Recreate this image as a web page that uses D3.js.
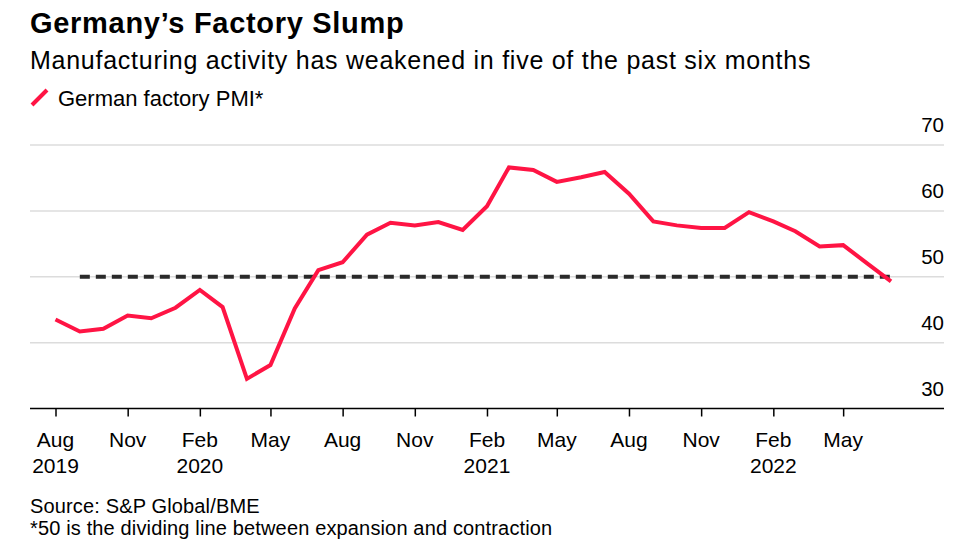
<!DOCTYPE html>
<html>
<head>
<meta charset="utf-8">
<script src="https://cdn.jsdelivr.net/npm/d3@7"></script>
<style>
  body { margin: 0; background: #fff; }
  svg text { font-family: "Liberation Sans", Arial, sans-serif; fill: #000; }
</style>
</head>
<body>
<svg id="chart" width="972" height="550"></svg>
<script>
// ---- data ----
const months = [
  '2019-08','2019-09','2019-10','2019-11','2019-12',
  '2020-01','2020-02','2020-03','2020-04','2020-05','2020-06','2020-07',
  '2020-08','2020-09','2020-10','2020-11','2020-12',
  '2021-01','2021-02','2021-03','2021-04','2021-05','2021-06','2021-07',
  '2021-08','2021-09','2021-10','2021-11','2021-12',
  '2022-01','2022-02','2022-03','2022-04','2022-05','2022-06','2022-07'
];
const pmi = [
  43.5, 41.7, 42.1, 44.1, 43.7,
  45.3, 48.0, 45.4, 34.5, 36.6, 45.2, 51.0,
  52.2, 56.4, 58.2, 57.8, 58.3,
  57.1, 60.7, 66.6, 66.2, 64.4, 65.1, 65.9,
  62.6, 58.4, 57.8, 57.4, 57.4,
  59.8, 58.4, 56.9, 54.6, 54.8, 52.0, 49.3
];
const yTicks = [30, 40, 50, 60, 70];
const xTicks = [
  '2019-08','2019-11','2020-02','2020-05','2020-08','2020-11',
  '2021-02','2021-05','2021-08','2021-11','2022-02','2022-05'
];
const thresholdValue = 50;
const thresholdRange = ['2019-09', '2022-07'];

const title = 'Germany\u2019s Factory Slump';
const subtitle = 'Manufacturing activity has weakened in five of the past six months';
const legendLabel = 'German factory PMI*';
const notes = ['Source: S&P Global/BME', '*50 is the dividing line between expansion and contraction'];

// ---- setup ----
const parse = d3.timeParse('%Y-%m');
const data = months.map((m, i) => ({ date: parse(m), value: pmi[i] }));
const red = '#ff1444';

const svg = d3.select('#chart');

const x = d3.scaleTime()
  .domain([parse('2019-08'), parse('2022-07')])
  .range([55.5, 891]);
const y = d3.scaleLinear()
  .domain([30, 70])
  .range([408.5, 145]);

const gridLeft = 30, gridRight = 944;

// titles
svg.append('text').attr('x', 30).attr('y', 33)
  .style('font-size', '29px').style('font-weight', 'bold')
  .style('letter-spacing', '0.7px').text(title);
svg.append('text').attr('x', 30).attr('y', 69)
  .style('font-size', '25px').style('letter-spacing', '0.74px').text(subtitle);

// legend
svg.append('line').attr('x1', 32).attr('y1', 105).attr('x2', 47).attr('y2', 90)
  .attr('stroke', red).attr('stroke-width', 4);
svg.append('text').attr('x', 58).attr('y', 105.5)
  .style('font-size', '22px').text(legendLabel);

// gridlines + y labels
const grid = svg.append('g');
grid.selectAll('line').data(yTicks.filter(d => d !== 30)).join('line')
  .attr('x1', gridLeft).attr('x2', gridRight)
  .attr('y1', d => y(d)).attr('y2', d => y(d))
  .attr('stroke', '#dcdcdc').attr('stroke-width', 1.5);
grid.selectAll('text').data(yTicks).join('text')
  .attr('x', gridRight).attr('y', d => y(d) - 13)
  .attr('text-anchor', 'end')
  .style('font-size', '20.5px')
  .text(d => d);

// x axis
const xAxis = svg.append('g')
  .attr('transform', `translate(0,${y(30)})`)
  .call(d3.axisBottom(x).tickValues(xTicks.map(parse)).tickSize(8).tickSizeOuter(0).tickFormat(''));
xAxis.select('.domain').attr('d', `M${gridLeft},0H${gridRight}`).attr('stroke', '#000').attr('stroke-width', 1.5);
xAxis.selectAll('.tick line').attr('stroke', '#000').attr('stroke-width', 1.5);

const xLabels = svg.append('g');
xTicks.forEach((k, i) => {
  const d = parse(k);
  xLabels.append('text').attr('x', x(d)).attr('y', 446.5)
    .attr('text-anchor', 'middle').style('font-size', '21px').text(d3.timeFormat('%b')(d));
  if (i === 0 || d.getMonth() === 1) {
    xLabels.append('text').attr('x', x(d)).attr('y', 473)
      .attr('text-anchor', 'middle').style('font-size', '21px').text(d3.timeFormat('%Y')(d));
  }
});

// threshold
svg.append('line')
  .attr('x1', x(parse(thresholdRange[0]))).attr('x2', x(parse(thresholdRange[1])))
  .attr('y1', y(thresholdValue)).attr('y2', y(thresholdValue))
  .attr('stroke', '#2a2a2a').attr('stroke-width', 4)
  .attr('stroke-dasharray', '10,6');

// series
svg.append('path').datum(data)
  .attr('fill', 'none').attr('stroke', red).attr('stroke-width', 4)
  .attr('d', d3.line().x(d => x(d.date)).y(d => y(d.value)));

// footer
notes.forEach((t, i) => {
  svg.append('text').attr('x', 30).attr('y', 513 + i * 22)
    .style('font-size', '20px').style('letter-spacing', '0.15px').text(t);
});
</script>
</body>
</html>
